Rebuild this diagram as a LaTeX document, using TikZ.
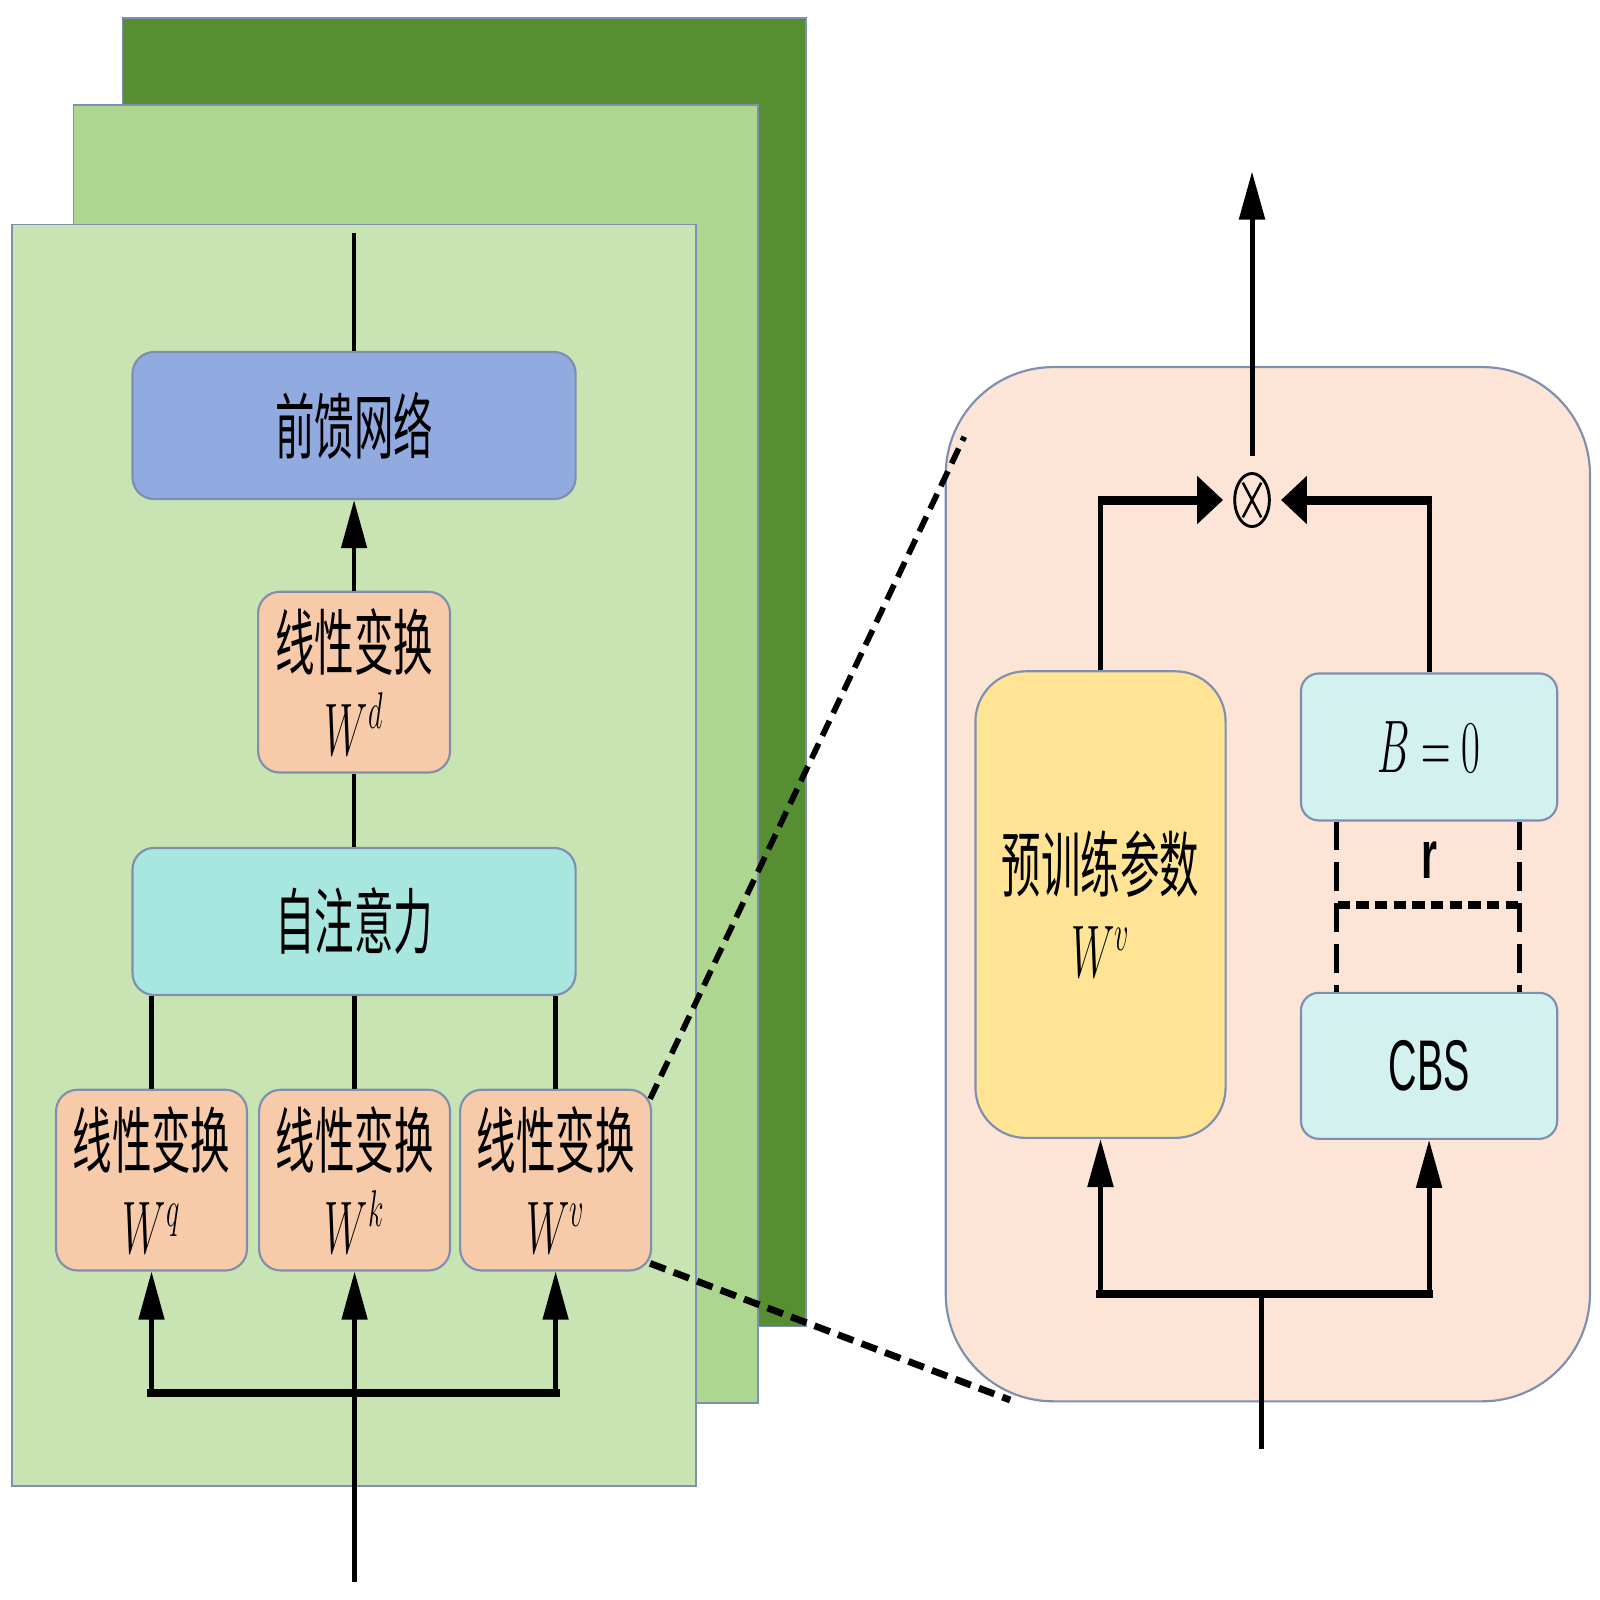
\documentclass[tikz,border=0pt]{standalone}
\usepackage{fontspec}
\usepackage{graphicx}
\setsansfont{Liberation Sans}
\newfontfamily\cjk{Noto Sans CJK SC}
\usetikzlibrary{arrows.meta,shapes.geometric}
\definecolor{dkgreen}{HTML}{578E32}
\definecolor{mdgreen}{HTML}{ADD691}
\definecolor{ltgreen}{HTML}{C8E4B3}
\definecolor{ffnblue}{HTML}{91ABE1}
\definecolor{attcyan}{HTML}{A8E6E0}
\definecolor{linorange}{HTML}{F7CBA9}
\definecolor{peach}{HTML}{FCE4D6}
\definecolor{preyellow}{HTML}{FFE496}
\definecolor{lorablue}{HTML}{D3F1EF}
\definecolor{edgecol}{HTML}{7F8FB0}
\newcommand{\zh}[1]{\scalebox{0.55}[1]{\cjk #1}}
\newcommand{\mth}[1]{\scalebox{0.55}[1]{$#1$}}
\begin{document}
\begin{tikzpicture}[x=0.01cm,y=-0.01cm,
  box/.style={draw=edgecol,line width=0.6pt,rounded corners=6pt,inner sep=0pt,align=center,
    font=\fontsize{20}{24}\selectfont},
  conn/.style={line width=1.2pt},
  busline/.style={line width=2.3pt},
  varr/.style={line width=1.2pt,-{Triangle[length=13.4pt,width=7pt]}},
  harr/.style={line width=2.5pt,-{Triangle[length=7.2pt,width=13pt]}},
  zdash/.style={line width=1.6pt,dash pattern=on 4.6pt off 2.4pt},
  rvdash/.style={line width=1.4pt,dash pattern=on 8pt off 3.4pt},
  rhdash/.style={line width=2.2pt,dash pattern=on 3.4pt off 1.8pt}
]
\useasboundingbox (0,0) rectangle (1568,1568);
% stacked layers
\filldraw[fill=dkgreen,draw=edgecol,line width=0.5pt] (120,18) rectangle (790,1300);
\filldraw[fill=mdgreen,draw=edgecol,line width=0.5pt] (72,103) rectangle (743,1375);
\filldraw[fill=ltgreen,draw=edgecol,line width=0.5pt] (12,220) rectangle (682,1456);

% left nodes
\node[box,fill=ffnblue,minimum width=4.34cm,minimum height=1.44cm] (ffn) at (347,417) {\zh{前馈网络}};
\node[box,fill=linorange,minimum width=1.88cm,minimum height=1.77cm] (wd) at (347,668.5) {\zh{线性变换}\\\mth{W^d}};
\node[box,fill=attcyan,minimum width=4.34cm,minimum height=1.44cm] (attn) at (347,903) {\zh{自注意力}};
\node[box,fill=linorange,minimum width=1.87cm,minimum height=1.77cm] (wq) at (148.5,1156.5) {\zh{线性变换}\\\mth{W^q}};
\node[box,fill=linorange,minimum width=1.87cm,minimum height=1.77cm] (wk) at (347.5,1156.5) {\zh{线性变换}\\\mth{W^k}};
\node[box,fill=linorange,minimum width=1.87cm,minimum height=1.77cm] (wv) at (544.5,1156.5) {\zh{线性变换}\\\mth{W^v}};

\coordinate (ltop) at (347,228);
\coordinate (lin) at (347.5,1550);
\coordinate (busy) at (0,1365);

\draw[conn] (ffn.north) -- (ltop);
\draw[varr] (wd.north) -- (ffn.south);
\draw[conn] (attn.north) -- (wd.south);
\draw[conn] (wq.north) -- (wq.north |- attn.south);
\draw[conn] (wk.north) -- (wk.north |- attn.south);
\draw[conn] (wv.north) -- (wv.north |- attn.south);
\draw[busline,line cap=rect] (wq.south |- busy) -- (wv.south |- busy);
\draw[varr] (wq.south |- busy) -- (wq.south);
\draw[varr] (wv.south |- busy) -- (wv.south);
\draw[varr] (lin) -- (wk.south);

% right panel
\node[draw=edgecol,line width=0.6pt,fill=peach,rounded corners=30pt,minimum width=6.31cm,minimum height=10.13cm,inner sep=0pt] (big) at (1242.5,866.5) {};
\node[box,fill=preyellow,rounded corners=14pt,minimum width=2.45cm,minimum height=4.57cm] (pre) at (1078.5,886.5) {\zh{预训练参数}\\\mth{W^v}};
\node[box,fill=lorablue,rounded corners=5pt,minimum width=2.51cm,minimum height=1.44cm] (bzero) at (1400.5,732) {\mth{B=0}};
\node[box,fill=lorablue,rounded corners=5pt,minimum width=2.51cm,minimum height=1.43cm] (cbs) at (1400.5,1044.5) {\scalebox{0.55}[1]{\sffamily CBS}};
\node[draw,ellipse,line width=0.8pt,minimum width=0.34cm,minimum height=0.52cm,inner sep=0pt] (otimes) at (1227,490) {};
\draw[line width=0.7pt] ([shift={(-9,-17)}]otimes.center) -- ([shift={(9,17)}]otimes.center);
\draw[line width=0.7pt] ([shift={(9,-17)}]otimes.center) -- ([shift={(-9,17)}]otimes.center);

\coordinate (rout) at (1227,168);
\coordinate (rin) at (1236,1420);
\coordinate (rbus) at (1236,1268);

\draw[varr,line width=1.4pt,shorten <=0.16cm] (otimes.north) -- (rout);
\draw[line width=1.4pt] (pre.north) -- (pre.north |- otimes);
\draw[harr,shorten >=0.1cm] ([xshift=-0.7pt]pre.north |- otimes) -- (otimes.west);
\draw[line width=1.4pt] (bzero.north) -- (bzero.north |- otimes);
\draw[harr,shorten >=0.1cm] ([xshift=0.7pt]bzero.north |- otimes) -- (otimes.east);

\draw[line width=1.4pt] (rin) -- (rbus);
\draw[busline,line cap=rect] (pre.south |- rbus) -- (cbs.south |- rbus);
\draw[varr,line width=1.4pt] (pre.south |- rbus) -- (pre.south);
\draw[varr,line width=1.4pt] (cbs.south |- rbus) -- (cbs.south);

% rank bracket
\draw[rvdash] ([xshift=0.36cm]bzero.south west) -- ([xshift=0.36cm]cbs.north west);
\draw[rvdash] ([xshift=-0.38cm]bzero.south east) -- ([xshift=-0.38cm]cbs.north east);
\coordinate (rl) at (1311,887);
\coordinate (rr) at (1488,887);
\draw[rhdash] (rl) -- (rr);
\node[font=\fontsize{19}{22}\selectfont\sffamily\bfseries] (rlab) at (1401,843) {\scalebox{0.6}[1]{r}};

% zoom lines
\coordinate (zt) at (945,428);
\coordinate (zb) at (990,1372);
\draw[zdash] ([shift={(-2,10)}]wv.north east) -- (zt);
\draw[zdash,line width=1.9pt] ([shift={(-2,-8)}]wv.south east) -- (zb);
\end{tikzpicture}
\end{document}
